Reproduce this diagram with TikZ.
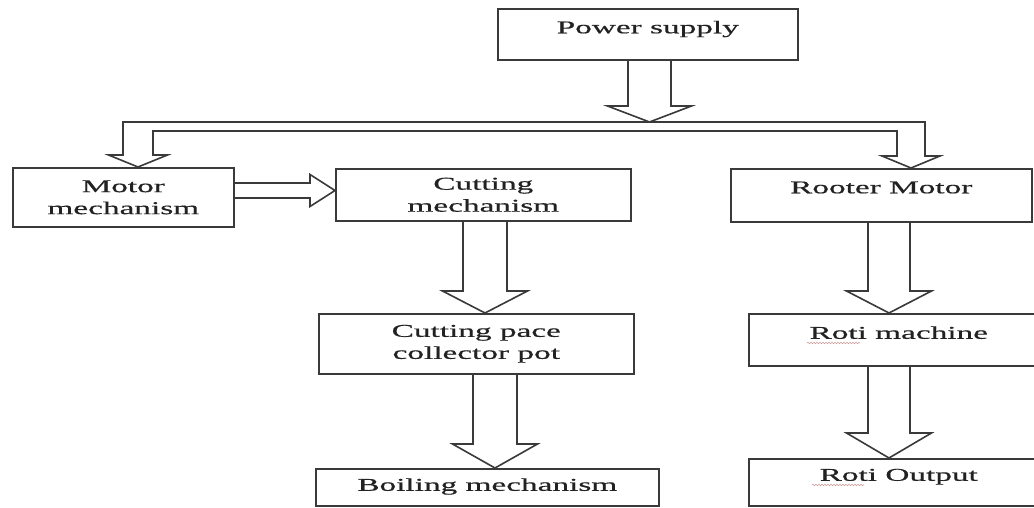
\documentclass[tikz,border=0pt]{standalone}
\usepackage{fontspec}
\setmainfont[FakeStretch=1.85,FakeBold=0.6]{Liberation Serif}
\usetikzlibrary{calc,decorations.pathmorphing}
\definecolor{ink}{HTML}{3A3A3A}
\definecolor{txt}{HTML}{222222}
\tikzset{
  box/.style={draw=ink, line width=1.6pt, rectangle, anchor=north west, inner sep=0pt,
     text=txt, align=center, font=\fontsize{18}{22}\selectfont},
  arr/.style={draw=ink, line width=1.6pt, line join=miter},
  squig/.style={draw=red!35!gray!60!white, line width=0.6pt, decorate,
     decoration={snake, amplitude=0.7pt, segment length=3pt}}
}
\newcommand\blockdown[6]{\draw[arr] let \p1=(#1), \p2=(#2) in
  (#3pt-#4pt,\y1) -- (#3pt-#4pt,\y2+#6pt) -- (#3pt-#5pt,\y2+#6pt) -- (#3pt,\y2)
  -- (#3pt+#5pt,\y2+#6pt) -- (#3pt+#4pt,\y2+#6pt) -- (#3pt+#4pt,\y1);}
\newcommand\blockright[6]{\draw[arr] let \p1=(#1), \p2=(#2) in
  (\x1,-#3pt+#4pt) -- (\x2-#6pt,-#3pt+#4pt) -- (\x2-#6pt,-#3pt+#5pt) -- (\x2,-#3pt)
  -- (\x2-#6pt,-#3pt-#5pt) -- (\x2-#6pt,-#3pt-#4pt) -- (\x1,-#3pt-#4pt);}
\begin{document}
\begin{tikzpicture}[x=1pt,y=-1pt]
\useasboundingbox (0,0) rectangle (1034,508);
\fill[white] (0,0) rectangle (1034,508);
\clip (0,0) rectangle (1034,508);
% boxes
\node[box, minimum width=300pt, minimum height=51pt, text height=12pt, text depth=14pt] (ps) at (497,8) {Power supply};
\node[box, minimum width=221pt, minimum height=59pt] (mm) at (12,167) {Motor\\mechanism};
\node[box, minimum width=295pt, minimum height=52pt] (cm) at (335,168) {Cutting\\mechanism};
\node[box, minimum width=301pt, minimum height=53pt, text height=12pt, text depth=16pt] (rm) at (730,168) {Rooter Motor};
\node[box, minimum width=315pt, minimum height=60pt] (cp) at (318,313) {Cutting pace\\collector pot};
\node[box, minimum width=343pt, minimum height=37pt, text height=12pt, text depth=5pt] (bm) at (315,468) {Boiling mechanism};
\node[box, minimum width=300pt, minimum height=52pt, text height=12pt, text depth=14pt, xshift=-2pt] (rmach) at (750,313) {Roti machine};
\node[box, minimum width=300pt, minimum height=47pt, text height=12pt, text depth=15pt, xshift=-2pt] (ro) at (750,458) {Roti Output};
% spell-check marks under "Roti"
\draw[squig] (807,343) -- (860,343);
\draw[squig] (812,485) -- (864,485);
% bus bar with its two block arrows
\coordinate (bus) at (650,122);
\draw[arr] let \p1=(mm.north), \p2=(rm.north) in
  (153pt,-131pt) -- (153pt,\y1+12pt) -- (167.5pt,\y1+12pt) -- (138pt,\y1)
  -- (108.5pt,\y1+12pt) -- (123pt,\y1+12pt) -- (123pt,-122pt) -- (925pt,-122pt)
  -- (925pt,\y2+12pt) -- (940pt,\y2+12pt) -- (911pt,\y2) -- (882pt,\y2+12pt)
  -- (897pt,\y2+12pt) -- (897pt,-131pt) -- cycle;
% block arrows
\blockdown{ps.south}{bus}{649.5}{21.5}{42}{16}
\blockright{mm.east}{cm.west}{190.5}{7.5}{16}{25}
\blockdown{cm.south}{cp.north}{485}{22}{42.5}{22}
\blockdown{cp.south}{bm.north}{495}{22}{42.5}{24}
\blockdown{rm.south}{rmach.north}{889}{21}{42.5}{22}
\blockdown{rmach.south}{ro.north}{889}{21}{42.5}{25}
\end{tikzpicture}
\end{document}
